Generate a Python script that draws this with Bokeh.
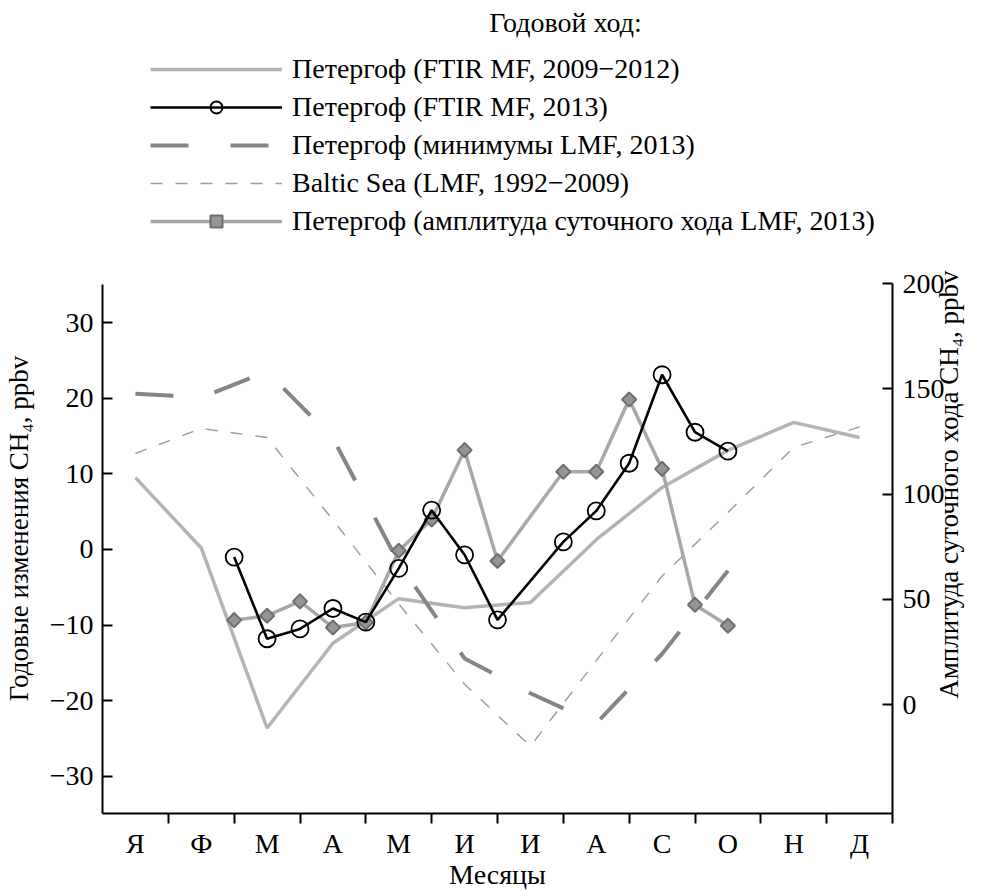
import math
from bokeh.plotting import figure
from bokeh.models import Range1d, LinearAxis, FixedTicker, Legend, LegendItem, Label
from bokeh.embed import file_html
from bokeh.resources import INLINE

# ---- data ----
month_labels = ["Я", "Ф", "М", "А", "М", "И", "И", "А", "С", "О", "Н", "Д"]
month_pos = [0.5, 1.5, 2.5, 3.5, 4.5, 5.5, 6.5, 7.5, 8.5, 9.5, 10.5, 11.5]
month_edges = [1, 2, 3, 4, 5, 6, 7, 8, 9, 10, 11, 12]

ftir_2009_2012 = [9.5, 0.2, -23.6, -12.4, -6.5, -7.7, -7.0, 1.3, 8.2, 13.1, 16.8, 14.8]
baltic_1992_2009 = [12.7, 16.0, 14.8, 3.9, -7.2, -17.8, -26.0, -14.7, -3.5, 4.9, 13.5, 16.2]
lmf_min_2013 = [20.6, 20.1, 23.5, 14.7, -1.8, -14.4, -19.0, -23.0, -13.8, -2.8]

sample_pos_2013 = [2.0, 2.5, 3.0, 3.5, 4.0, 4.5, 5.0, 5.5, 6.0, 7.0, 7.5, 8.0, 8.5, 9.0, 9.5]
ftir_2013 = [-1.0, -11.8, -10.5, -7.8, -9.6, -2.5, 5.2, -0.7, -9.3, 1.0, 5.1, 11.4, 23.1, 15.5, 13.0]
lmf_amp_2013 = [40.2, 42.3, 49.1, 36.7, 39.1, 73.1, 88.0, 120.9, 68.3, 110.6, 110.6, 144.9, 112.0, 47.5, 37.5]

left_ticks = [-30, -20, -10, 0, 10, 20, 30]
right_ticks = [0, 50, 100, 150, 200]
left_bounds = (-34.9, 35.0)
right_bounds = (-51.6, 200)

legend_title = "Годовой ход:"
legend_labels = [
    "Петергоф (FTIR MF, 2009−2012)",
    "Петергоф (FTIR MF, 2013)",
    "Петергоф (минимумы LMF, 2013)",
    "Baltic Sea (LMF, 1992−2009)",
    "Петергоф (амплитуда суточного хода LMF, 2013)",
]
left_title = "Годовые изменения CH₄, ppbv"
right_title = "Амплитуда суточного хода CH₄, ppbv"
x_title = "Месяцы"

FONT = "Liberation Serif"
FS = "28px"
FS_T = "27px"
NB = "\u00a0"

# frame spans from the canvas top down to the x axis; the upper part holds the legend
p = figure(width=981, height=892, x_range=Range1d(0, 12), y_range=Range1d(-34.9, 72.57),
           x_axis_type=None, y_axis_type=None, output_backend="svg", toolbar_location=None,
           min_border_left=102, min_border_right=88, min_border_top=0, min_border_bottom=79)
p.outline_line_color = None
p.background_fill_color = "white"
p.extra_y_ranges = {"amp": Range1d(-51.6, 334.35)}


def style_axis(ax, title_size=FS):
    ax.axis_line_width = 2
    ax.axis_line_color = "black"
    ax.major_tick_line_width = 2
    ax.major_tick_line_color = "black"
    ax.minor_tick_line_width = 2
    ax.minor_tick_line_color = "black"
    ax.major_label_text_font = FONT
    ax.major_label_text_font_size = FS
    ax.major_label_text_color = "black"
    ax.axis_label_text_font = FONT
    ax.axis_label_text_font_size = title_size
    ax.axis_label_text_font_style = "normal"
    ax.axis_label_text_color = "black"


xa = LinearAxis(ticker=FixedTicker(ticks=month_pos, minor_ticks=month_edges),
                major_label_overrides={pos: lab for pos, lab in zip(month_pos, month_labels)},
                major_tick_in=0, major_tick_out=0, minor_tick_in=0, minor_tick_out=10,
                major_label_standoff=4, axis_label=x_title, axis_label_standoff=-3)
style_axis(xa)
p.add_layout(xa, "below")

ya = LinearAxis(ticker=FixedTicker(ticks=left_ticks), bounds=left_bounds,
                major_label_overrides={t: str(t).replace("-", "−") for t in left_ticks},
                major_tick_in=10, major_tick_out=0, minor_tick_in=0, minor_tick_out=0,
                major_label_standoff=9, axis_label=left_title + NB * 36, axis_label_standoff=13)
style_axis(ya, FS_T)
p.add_layout(ya, "left")

ra = LinearAxis(y_range_name="amp", ticker=FixedTicker(ticks=right_ticks), bounds=right_bounds,
                major_tick_in=10, major_tick_out=0, minor_tick_in=0, minor_tick_out=0,
                major_label_standoff=10, axis_label_standoff=1)
style_axis(ra, FS_T)
try:
    ra.axis_label_align = "start"
    ra.axis_label_orientation = math.pi / 2
    ra.axis_label = NB * 17 + right_title
except Exception:
    ra.axis_label = right_title
p.add_layout(ra, "right")

# ---- series ----
r1 = p.line(month_pos, ftir_2009_2012, line_color="#b4b4b4", line_width=3.5)
r2 = p.line(month_pos, baltic_1992_2009, line_color="#9a9a9a", line_width=1.4, line_dash="12 13")
r3 = p.line(month_pos[:len(lmf_min_2013)], lmf_min_2013, line_color="#858585", line_width=4,
            line_dash="38 42")
r4l = p.line(sample_pos_2013, lmf_amp_2013, y_range_name="amp", line_color="#a8a8a8", line_width=3.5)
r4m = p.scatter(sample_pos_2013, lmf_amp_2013, y_range_name="amp", marker="square",
                angle=math.pi / 4, size=10, fill_color="#959595", line_color="#6e6e6e", line_width=2)
r5l = p.line(sample_pos_2013, ftir_2013, line_color="black", line_width=2.6)
r5m = p.scatter(sample_pos_2013, ftir_2013, marker="circle", size=17, fill_color=None,
                line_color="black", line_width=1.8)

legend = Legend(items=[
    LegendItem(label=legend_labels[0], renderers=[r1]),
    LegendItem(label=legend_labels[1], renderers=[r5l, r5m]),
    LegendItem(label=legend_labels[2], renderers=[r3]),
    LegendItem(label=legend_labels[3], renderers=[r2]),
    LegendItem(label=legend_labels[4], renderers=[r4l, r4m]),
], location=(48, 576), glyph_width=132, glyph_height=30, label_height=30, spacing=6,
    label_standoff=10, padding=0, margin=0, border_line_color=None, background_fill_alpha=0,
    label_text_font=FONT, label_text_font_size=FS, label_text_color="black")
p.add_layout(legend)

p.add_layout(Label(x=463, y=791, x_units="screen", y_units="screen", text=legend_title,
                   text_font=FONT, text_font_size=FS, text_color="black",
                   text_align="center", text_baseline="middle"))

open("out.html", "w").write(file_html(p, INLINE))
